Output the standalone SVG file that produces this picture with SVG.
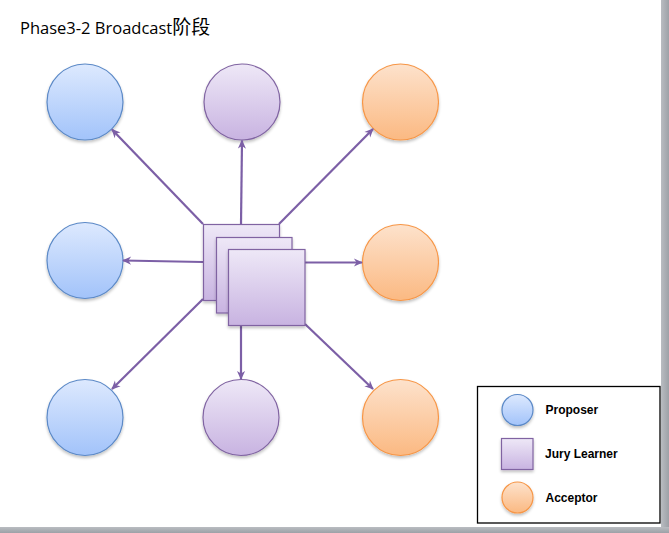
<svg xmlns="http://www.w3.org/2000/svg" width="669" height="533" viewBox="0 0 669 533">
<defs>
<linearGradient id="gBlue" x1="0" y1="0" x2="0" y2="1">
<stop offset="0" stop-color="#dde9fe"/><stop offset="1" stop-color="#a2c3fa"/>
</linearGradient>
<linearGradient id="gPurple" x1="0" y1="0" x2="0" y2="1">
<stop offset="0" stop-color="#eee8f7"/><stop offset="1" stop-color="#c8b3e1"/>
</linearGradient>
<linearGradient id="gOrange" x1="0" y1="0" x2="0" y2="1">
<stop offset="0" stop-color="#fde2cc"/><stop offset="1" stop-color="#fbb982"/>
</linearGradient>
<linearGradient id="gGrayR" x1="0" y1="0" x2="1" y2="0">
<stop offset="0" stop-color="#b9bcc1"/><stop offset="1" stop-color="#9da1a7"/>
</linearGradient>
<linearGradient id="gGrayB" x1="0" y1="0" x2="0" y2="1">
<stop offset="0" stop-color="#b9bcc1"/><stop offset="1" stop-color="#9da1a7"/>
</linearGradient>
<filter id="sh" x="-20%" y="-20%" width="140%" height="150%">
<feGaussianBlur in="SourceAlpha" stdDeviation="1.5"/>
<feOffset dx="0" dy="2" result="b"/>
<feComponentTransfer><feFuncA type="linear" slope="0.25"/></feComponentTransfer>
<feMerge><feMergeNode/><feMergeNode in="SourceGraphic"/></feMerge>
</filter>
<marker id="arr" viewBox="0 0 10 10" refX="9" refY="5" markerWidth="10" markerHeight="9" markerUnits="userSpaceOnUse" orient="auto">
<path d="M0,0.5 L10,5 L0,9.5 L3,5 z" fill="#7c5fa6"/>
</marker>
<style>
.blue{fill:url(#gBlue);stroke:#5b89c7;stroke-width:1.2;filter:url(#sh)}
.purple{fill:url(#gPurple);stroke:#8064a2;stroke-width:1.2;filter:url(#sh)}
.orange{fill:url(#gOrange);stroke:#f79646;stroke-width:1.2;filter:url(#sh)}
.conn line{stroke:#7c5fa6;stroke-width:2.2;marker-end:url(#arr)}
.lg{font-family:"Liberation Sans",Arial,sans-serif;font-weight:bold;font-size:12px;fill:#000}
</style>
</defs>
<rect x="0" y="0" width="669" height="533" fill="#ffffff"/>
<rect x="661" y="0" width="8" height="533" fill="url(#gGrayR)"/>
<rect x="0" y="527" width="669" height="6" fill="url(#gGrayB)"/>
<text x="20" y="34" font-family="'Open Sans','Noto Sans CJK SC',sans-serif" font-size="16.5" fill="#000">Phase3-2 Broadcast<tspan font-size="19">阶段</tspan></text>

<g id="p1"><circle class="blue" cx="85" cy="102" r="38"/></g>
<g id="j1"><circle class="purple" cx="242" cy="102" r="38"/></g>
<g id="a1"><circle class="orange" cx="400.5" cy="102" r="38"/></g>
<g id="p2"><circle class="blue" cx="85" cy="260.5" r="38"/></g>
<g id="a2"><circle class="orange" cx="400.5" cy="262.5" r="38"/></g>
<g id="p3"><circle class="blue" cx="85" cy="417.5" r="38"/></g>
<g id="j3"><circle class="purple" cx="241" cy="417.5" r="38"/></g>
<g id="a3"><circle class="orange" cx="400.5" cy="417.5" r="38"/></g>

<g id="connectors" class="conn">
<line x1="203" y1="224" x2="112" y2="129.5"/>
<line x1="241" y1="224" x2="242" y2="140.5"/>
<line x1="279" y1="224" x2="373" y2="129"/>
<line x1="203" y1="262" x2="123" y2="260.5"/>
<line x1="305" y1="262.5" x2="362" y2="262.5"/>
<line x1="203" y1="299" x2="112" y2="389"/>
<line x1="241" y1="325" x2="241" y2="379"/>
<line x1="305" y1="324" x2="373" y2="389"/>
</g>

<g id="jury">
<rect class="purple" x="203.5" y="224.5" width="76" height="76"/>
<rect class="purple" x="216.5" y="237.5" width="75.5" height="75.5"/>
<rect class="purple" x="228.5" y="249.5" width="76.5" height="76"/>
</g>

<g id="legend">
<rect x="477.5" y="386.5" width="182.5" height="136.5" fill="#fff" stroke="#000" stroke-width="1.3"/>
<g id="lg-proposer"><circle class="blue" cx="517.5" cy="410" r="15.5"/><text class="lg" x="545.5" y="414">Proposer</text></g>
<g id="lg-jury"><rect class="purple" x="501.5" y="438.5" width="31.5" height="31"/><text class="lg" x="545" y="458">Jury Learner</text></g>
<g id="lg-acceptor"><circle class="orange" cx="517.5" cy="497.5" r="15.5"/><text class="lg" x="545.5" y="502">Acceptor</text></g>
</g>
</svg>
